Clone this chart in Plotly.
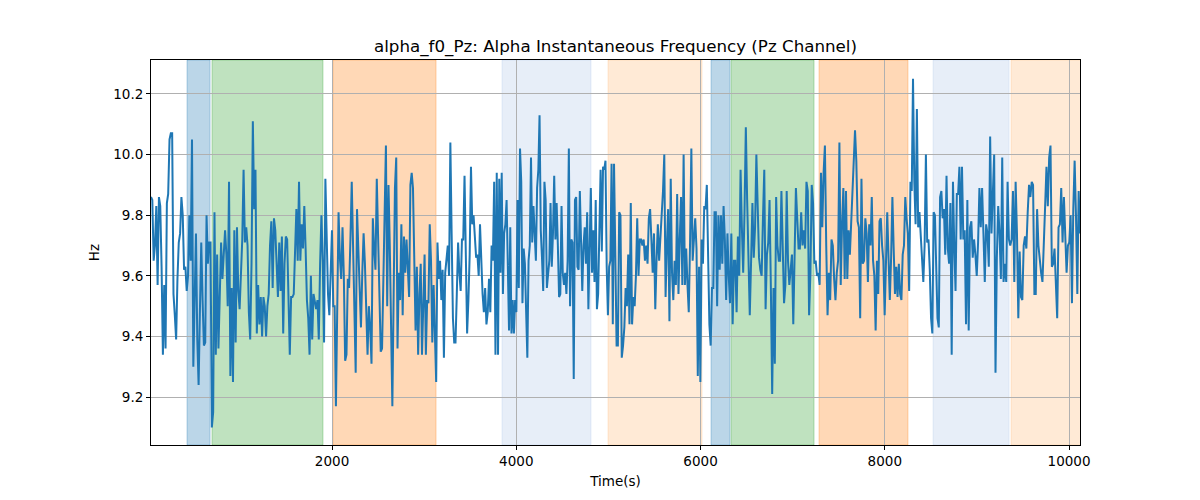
import numpy as np
import plotly.graph_objects as go

# Frequency values (Hz), read in 8 consecutive time segments
seg1 = [9.86, 9.85, 9.65, 9.70, 9.83, 9.57, 9.86, 9.83, 9.63, 9.34, 9.57, 9.36, 9.84, 9.87, 10.05, 10.07,
        10.07, 9.54, 9.47, 9.39, 9.59, 9.71, 9.74, 9.86, 9.80, 9.62, 9.63, 9.55, 9.60, 9.80, 9.65, 10.05,
        9.30, 9.54, 9.74, 9.39, 9.24, 9.49, 9.71, 9.52, 9.37, 9.38, 9.80, 9.64, 9.71, 9.71, 9.10, 9.15,
        9.81, 9.34, 9.67, 9.36, 9.60, 9.71, 9.59, 9.67, 9.75, 9.67, 9.50, 9.91, 9.27, 9.56, 9.25, 9.75,
        9.38, 9.76, 9.55, 9.49, 9.59, 9.72, 9.95, 9.71, 9.76, 9.70, 9.48, 9.39, 9.64, 10.11, 9.82, 9.95,
        9.41, 9.57, 9.44, 9.53, 9.40, 9.53, 9.50]
seg2 = [9.40, 9.50, 9.54, 9.70, 9.78, 9.56, 9.79, 9.75, 9.62, 9.53, 9.71, 9.55, 9.73, 9.41, 9.64, 9.73,
        9.72, 9.54, 9.34, 9.53, 9.53, 9.54, 9.66, 9.82, 9.65, 9.91, 9.65, 9.77, 9.69, 9.83, 9.69, 9.52,
        9.46, 9.34, 9.60, 9.39, 9.54, 9.52, 9.49, 9.52, 9.39, 9.64, 9.80, 9.65, 9.38, 9.92, 9.70, 9.54,
        9.47, 9.61, 9.75, 9.50, 9.50, 9.17, 9.46, 9.81, 9.66, 9.59, 9.76, 9.60, 9.32, 9.34, 9.59, 9.56,
        9.72, 9.91, 9.70, 9.42, 9.28, 9.82, 9.70, 9.55, 9.43, 9.61, 9.74, 9.64, 9.46, 9.34, 9.50, 9.43,
        9.31, 9.79, 9.69, 9.62, 9.92, 9.72, 9.52, 9.35]
seg3 = [9.36, 9.61, 9.87, 10.03, 9.50, 9.90, 9.70, 9.41, 9.17, 9.54, 9.89, 9.99, 9.36, 9.61, 9.52, 9.77,
        9.47, 9.73, 9.61, 9.72, 9.59, 9.53, 9.90, 9.94, 9.89, 9.67, 9.42, 9.63, 9.34, 9.54, 9.64, 9.34,
        9.54, 9.67, 9.34, 9.52, 9.51, 9.77, 9.65, 9.38, 9.57, 9.37, 9.25, 9.71, 9.59, 9.65, 9.52, 9.62,
        9.33, 9.61, 9.66, 9.70, 9.60, 10.04, 9.74, 9.46, 9.38, 9.38, 9.54, 9.71, 9.61, 9.55, 9.72, 9.72,
        9.93, 9.66, 9.41, 9.52, 9.67, 9.96, 9.77, 9.80, 9.72, 9.66, 9.67, 9.60, 9.77, 9.61, 9.54, 9.48,
        9.56, 9.44, 9.48, 9.59, 9.48, 9.70, 9.65, 9.91, 9.34, 9.94]
seg4 = [9.34, 9.92, 9.61, 9.94, 9.54, 9.74, 9.77, 9.85, 9.60, 9.42, 9.76, 9.41, 9.52, 9.41, 9.52, 9.48,
        9.85, 9.56, 10.02, 9.91, 9.51, 9.69, 9.64, 9.48, 9.33, 9.65, 9.70, 9.99, 9.71, 9.83, 9.72, 9.65,
        9.89, 9.95, 10.13, 9.75, 9.66, 9.55, 9.91, 9.85, 9.56, 9.61, 9.65, 9.84, 9.63, 9.74, 9.93, 9.72,
        9.84, 9.70, 9.53, 9.54, 9.83, 9.61, 9.57, 9.61, 9.54, 9.65, 10.02, 9.50, 9.72, 9.71, 9.26, 9.85,
        9.86, 9.63, 9.62, 9.88, 9.66, 9.55, 9.70, 9.76, 9.64, 9.81, 9.49, 9.72, 9.89, 9.61, 9.75, 9.58,
        9.85, 9.49, 9.54, 9.75, 9.95, 9.68, 9.96, 9.95, 9.98, 9.63, 9.47, 9.63, 9.65, 9.97, 9.44]
seg5 = [9.97, 9.63, 9.37, 9.37, 9.81, 9.80, 9.33, 9.37, 9.43, 9.56, 9.50, 9.67, 9.44, 9.84, 9.44, 9.53,
        9.50, 9.60, 9.79, 9.60, 9.72, 9.72, 9.70, 9.72, 9.65, 9.70, 9.64, 9.79, 9.82, 9.72, 9.61, 9.74,
        9.49, 9.65, 9.77, 9.65, 9.72, 9.79, 9.88, 10.00, 9.53, 9.70, 9.82, 9.45, 9.92, 9.61, 9.52, 9.65,
        9.57, 9.87, 9.54, 9.72, 9.86, 9.57, 10.00, 9.57, 9.69, 9.57, 9.48, 9.71, 10.02, 9.65, 9.72, 9.79,
        9.69, 9.27, 9.63, 9.25, 9.72, 9.64, 9.83, 9.82, 9.90, 9.61, 9.44, 9.37, 9.56, 9.56, 9.81, 9.81,
        9.50, 9.80, 9.62, 9.80, 9.64, 9.83, 9.72, 9.52, 9.74, 9.60]
seg6 = [9.51, 9.74, 9.44, 9.65, 9.65, 9.48, 9.73, 9.60, 9.95, 9.76, 9.61, 9.81, 10.09, 9.85, 9.70, 9.47,
        9.65, 9.84, 9.66, 9.76, 10.00, 9.85, 9.66, 9.62, 9.60, 9.79, 9.95, 9.49, 9.67, 9.71, 9.85, 9.56,
        9.21, 9.56, 9.31, 9.86, 9.70, 9.65, 9.65, 9.88, 9.72, 9.51, 9.57, 9.88, 9.65, 9.57, 9.62, 9.67,
        9.44, 9.66, 9.89, 9.79, 9.69, 9.69, 9.81, 9.70, 9.75, 9.69, 9.91, 9.88, 9.47, 9.61, 9.90, 9.84,
        9.64, 9.65, 9.60, 9.61, 9.57, 9.94, 9.76, 9.94, 10.03, 9.70, 9.47, 9.61, 9.52, 9.72, 9.70, 9.59,
        9.52, 9.61, 9.65, 10.04, 9.57, 9.77, 9.89, 9.59]
seg7 = [9.88, 9.59, 9.75, 9.67, 9.78, 9.91, 9.99, 10.08, 9.98, 9.78, 9.76, 9.46, 9.92, 9.64, 9.65, 9.79,
        9.74, 9.58, 9.77, 9.70, 9.86, 9.65, 9.60, 9.42, 9.65, 9.54, 9.78, 9.79, 9.70, 9.65, 9.47, 9.69,
        9.81, 9.66, 9.52, 9.66, 9.86, 9.69, 9.54, 9.63, 9.53, 9.64, 9.54, 9.52, 9.67, 9.70, 9.86, 9.79,
        9.74, 9.55, 9.91, 9.88, 10.25, 9.91, 9.77, 10.15, 9.76, 9.81, 9.74, 9.66, 9.58, 9.70, 10.00, 9.71,
        9.72, 9.62, 9.46, 9.41, 9.81, 9.80, 9.63, 9.46, 9.43, 9.86, 9.88, 9.79, 9.82, 9.67, 9.93, 9.69,
        9.64, 9.84, 9.34, 9.91, 9.70, 9.55, 9.87, 9.87, 9.96, 9.72]
seg8 = [9.96, 9.72, 9.75, 9.44, 9.85, 9.42, 9.76, 9.78, 9.66, 9.72, 9.67, 9.60, 9.71, 9.89, 9.76, 9.89,
        9.74, 9.58, 9.77, 9.74, 9.63, 10.06, 9.74, 9.92, 10.00, 9.28, 9.66, 9.83, 9.74, 9.59, 9.99, 9.58,
        9.64, 9.58, 9.91, 9.72, 9.70, 9.72, 9.88, 9.58, 9.91, 9.74, 9.46, 9.68, 9.53, 9.52, 9.70, 9.73,
        9.69, 9.81, 9.90, 9.86, 9.91, 9.90, 9.54, 9.54, 9.82, 9.70, 9.65, 9.61, 9.58, 9.75, 9.83, 9.96,
        9.83, 9.99, 10.03, 9.63, 9.64, 9.69, 9.54, 9.46, 9.76, 9.77, 9.89, 9.71, 9.86, 9.76, 9.61, 9.70,
        9.71, 9.80, 9.51, 9.82, 9.98, 9.80, 9.54, 9.88, 9.74]

segments = [seg1, seg2, seg3, seg4, seg5, seg6, seg7, seg8]
# Segment boundaries in seconds
seg_edges = [35, 1284, 2543, 3802, 5061, 6320, 7579, 8838, 10119]

# Shaded intervals (start s, end s, colour)
band_starts = [426, 697, 2011, 3845, 4996, 6114, 6331, 7286, 8524, 9371]
band_ends = [676, 1902, 3129, 4811, 6016, 6320, 7232, 8252, 9349, 10150]
band_colors = ["rgba(31,119,180,0.3)", "rgba(44,160,44,0.3)", "rgba(255,127,14,0.3)",
               "rgba(174,199,232,0.3)", "rgba(255,187,120,0.3)",
               "rgba(31,119,180,0.3)", "rgba(44,160,44,0.3)", "rgba(255,127,14,0.3)",
               "rgba(174,199,232,0.3)", "rgba(255,187,120,0.3)"]

x_ticks = [2000, 4000, 6000, 8000, 10000]
x_tick_labels = ["2000", "4000", "6000", "8000", "10000"]
y_ticks = [9.2, 9.4, 9.6, 9.8, 10.0, 10.2]

times = []
values = []
for i, seg in enumerate(segments):
    last = i == len(segments) - 1
    t = np.linspace(seg_edges[i], seg_edges[i + 1], len(seg), endpoint=last)
    times.extend(t.tolist())
    values.extend(seg)

fig = go.Figure()
fig.add_trace(go.Scatter(x=times, y=values, mode="lines",
                         line=dict(color="#1f77b4", width=2), showlegend=False))

for s, e, c in zip(band_starts, band_ends, band_colors):
    fig.add_shape(type="rect", xref="x", yref="paper", x0=s, x1=e, y0=0, y1=1,
                  fillcolor=c, line=dict(color=c, width=1), layer="below")

font = "DejaVu Sans, Arial, sans-serif"
fig.update_layout(
    width=1200, height=500,
    margin=dict(l=143, r=128, t=52, b=63),
    paper_bgcolor="white", plot_bgcolor="white",
    font=dict(family=font, size=13.5, color="black"),
    title=dict(text="alpha_f0_Pz: Alpha Instantaneous Frequency (Pz Channel)",
               x=607.5 / 1200, xanchor="center", y=1 - 38 / 500, yanchor="middle",
               font=dict(family=font, size=16.7, color="black")),
    xaxis=dict(range=[seg_edges[0], seg_edges[-1]], tickvals=x_ticks, ticktext=x_tick_labels,
               ticks="outside", ticklen=4, automargin=False,
               tickcolor="black", showline=True, linecolor="black", linewidth=1, mirror=True,
               showgrid=True, gridcolor="#b0b0b0", gridwidth=1, zeroline=False,
               title=dict(text="Time(s)", font=dict(size=13.5), standoff=8)),
    yaxis=dict(range=[9.042, 10.312], tickvals=y_ticks, tickformat=".1f", ticks="outside", ticklen=4,
               automargin=False,
               tickcolor="black", showline=True, linecolor="black", linewidth=1, mirror=True,
               showgrid=True, gridcolor="#b0b0b0", gridwidth=1, zeroline=False,
               title=dict(text="Hz", font=dict(size=13.5), standoff=10)),
)

fig.write_html("out.html")
